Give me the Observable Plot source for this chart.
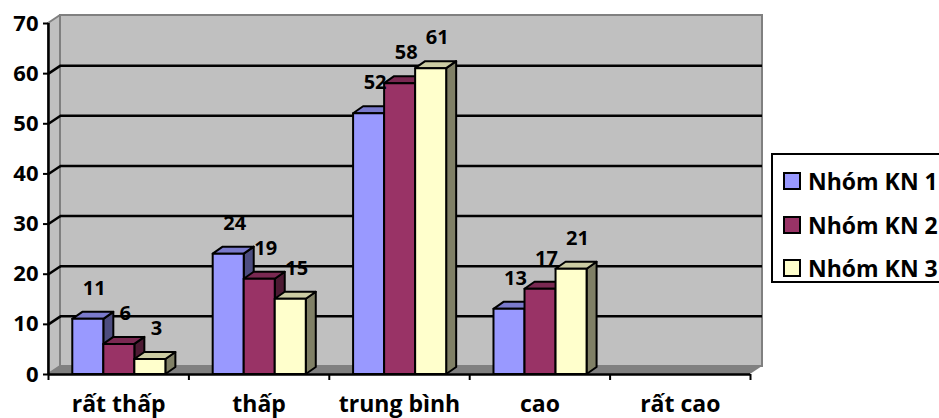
<!DOCTYPE html>
<html lang="vi">
<head>
<meta charset="utf-8">
<script src="https://cdn.jsdelivr.net/npm/d3@7"></script>
<script src="https://cdn.jsdelivr.net/npm/@observablehq/plot@0.6"></script>
<style>
  html, body { margin: 0; padding: 0; background: #fff; overflow: hidden; }
  #chart { position: relative; width: 939px; height: 418px; font-family: "Open Sans", sans-serif; }
  #chart svg { position: absolute; left: 0; top: 0; }
  .legend {
    position: absolute; left: 771px; top: 153px; width: 180px; height: 126px;
    border: 2px solid #000; background: #fff; box-sizing: content-box;
  }
  .legend .row { position: absolute; left: 10px; height: 28px; display: flex; align-items: center; }
  .legend .sw { width: 14px; height: 14px; border: 2px solid #000; margin-right: 7px; }
  .legend .lab { font-weight: 700; font-size: 23px; color: #000; white-space: nowrap; }
</style>
</head>
<body>
<div id="chart"></div>
<script>
// Mức độ theo từng nhóm
const categories = ["rất thấp", "thấp", "trung bình", "cao", "rất cao"];
const seriesNames = ["Nhóm KN 1", "Nhóm KN 2", "Nhóm KN 3"];
const kn1 = [11, 24, 52, 13, null];
const kn2 = [6, 19, 58, 17, null];
const kn3 = [3, 15, 61, 21, null];
const yTicks = [0, 10, 20, 30, 40, 50, 60, 70];

// Face colours: front, top, side
const palette = [
  { front: "#9999FF", top: "#7A7ACC", side: "#4D4D80" },
  { front: "#993366", top: "#7A2952", side: "#4D1A33" },
  { front: "#FFFFCC", top: "#CCCCA3", side: "#808066" }
];

// Pseudo-3D geometry (x in category units, y in value units)
const W = 771, H = 418;
const mL = 48, mR = 21, mT = 23, mB = 44;
const pxX = (W - mL - mR) / categories.length;   // px per category
const pxY = (H - mT - mB) / 70;                  // px per value unit
const GROUP_PAD = 0.173, BAR_W = 0.221;
const BAR_DX = 10 / pxX, BAR_DY = 7 / pxY;
const WALL_DX = 12 / pxX, WALL_DY = 8 / pxY;
const N = categories.length;

const seriesValues = [kn1, kn2, kn3];
const rows = [];
seriesValues.forEach((vals, j) => {
  vals.forEach((v, i) => {
    if (v == null) return;
    const x1 = i + GROUP_PAD + j * BAR_W;
    rows.push({ key: `${j}-${i}`, j, i, v, x1, x2: x1 + BAR_W });
  });
});

const sideVerts = r => [
  { key: r.key, x: r.x2, y1: 0, y2: r.v },
  { key: r.key, x: r.x2 + BAR_DX, y1: BAR_DY, y2: r.v + BAR_DY }
];
const topVerts = r => [
  { key: r.key, x: r.x1, y1: r.v, y2: r.v },
  { key: r.key, x: r.x1 + BAR_DX, y1: r.v, y2: r.v + BAR_DY },
  { key: r.key, x: r.x2, y1: r.v, y2: r.v + BAR_DY },
  { key: r.key, x: r.x2 + BAR_DX, y1: r.v + BAR_DY, y2: r.v + BAR_DY }
];

const gridInner = yTicks.filter(t => t > 0 && t < 70);

const marks = [
  // floor
  Plot.areaY([
    { x: 0, y1: 0, y2: 0 },
    { x: WALL_DX, y1: 0, y2: WALL_DY },
    { x: N, y1: 0, y2: WALL_DY },
    { x: N + WALL_DX, y1: WALL_DY, y2: WALL_DY }
  ], { x: "x", y1: "y1", y2: "y2", fill: "#808080", curve: "linear" }),
  // back wall
  Plot.rect([0], {
    x1: () => WALL_DX, x2: () => N + WALL_DX,
    y1: () => WALL_DY, y2: () => 70 + WALL_DY,
    fill: "#C0C0C0", stroke: "#808080", strokeWidth: 2
  }),
  // side wall
  Plot.areaY([
    { x: 0, y1: 0, y2: 70 },
    { x: WALL_DX, y1: WALL_DY, y2: 70 + WALL_DY }
  ], { x: "x", y1: "y1", y2: "y2", fill: "#C0C0C0", stroke: "#808080", strokeWidth: 2, curve: "linear" }),
  // gridlines on the back wall and their slant across the side wall
  Plot.ruleY(gridInner, {
    y: t => t + WALL_DY, x1: () => WALL_DX, x2: () => N + WALL_DX,
    stroke: "#000", strokeWidth: 2.5
  }),
  Plot.link(gridInner, {
    x1: () => 0, y1: t => t, x2: () => WALL_DX, y2: t => t + WALL_DY,
    stroke: "#000", strokeWidth: 2.5
  })
];

// bars, series by series: side, top, then front face
seriesNames.forEach((name, j) => {
  const rs = rows.filter(r => r.j === j);
  const col = palette[j];
  marks.push(
    Plot.areaY(rs.flatMap(sideVerts), {
      x: "x", y1: "y1", y2: "y2", z: "key", curve: "linear",
      fill: col.side, stroke: "#000", strokeWidth: 2, strokeLinejoin: "round"
    }),
    Plot.areaY(rs.flatMap(topVerts), {
      x: "x", y1: "y1", y2: "y2", z: "key", curve: "linear",
      fill: col.top, stroke: "#000", strokeWidth: 2, strokeLinejoin: "round"
    }),
    Plot.rect(rs, {
      x1: "x1", x2: "x2", y1: () => 0, y2: "v",
      fill: col.front, stroke: "#000", strokeWidth: 2, strokeLinejoin: "round"
    })
  );
});

marks.push(
  // value axis
  Plot.ruleX([0], { y1: () => 0, y2: () => 70, stroke: "#000", strokeWidth: 2.5 }),
  Plot.axisY(yTicks, {
    tickSize: 5, tickPadding: 5, strokeWidth: 2,
    fontSize: 22, fontWeight: 700, fill: "#000"
  }),
  // category axis
  Plot.ruleY([0], { x1: () => 0, x2: () => N, stroke: "#000", strokeWidth: 2.5 }),
  Plot.axisX(d3.range(N + 1), { tickSize: 6, strokeWidth: 2, tickFormat: () => "" }),
  Plot.axisX(categories.map((_, i) => i + 0.5), {
    tickSize: 0, tickPadding: 21,
    tickFormat: t => categories[Math.floor(t)],
    fontSize: 23, fontWeight: 700, fill: "#000"
  }),
  // value labels
  Plot.text(rows, {
    x: r => (r.x1 + r.x2) / 2, y: "v", text: r => String(r.v),
    dx: 6, dy: -31, fontSize: 20, fontWeight: 700, fill: "#000"
  })
);

const chart = Plot.plot({
  width: W, height: H,
  marginLeft: mL, marginRight: mR, marginTop: mT, marginBottom: mB,
  x: { type: "linear", domain: [0, N] },
  y: { type: "linear", domain: [0, 70] },
  style: { fontFamily: "'Open Sans', sans-serif", background: "transparent", color: "#000", overflow: "visible" },
  marks
});

const root = document.getElementById("chart");
root.appendChild(chart);

// legend
const legend = document.createElement("div");
legend.className = "legend";
seriesNames.forEach((name, j) => {
  const row = document.createElement("div");
  row.className = "row";
  row.style.top = (12 + j * 43.5) + "px";
  row.innerHTML = `<div class="sw" style="background:${palette[j].front}"></div><span class="lab">${name}</span>`;
  legend.appendChild(row);
});
root.appendChild(legend);
</script>
</body>
</html>
